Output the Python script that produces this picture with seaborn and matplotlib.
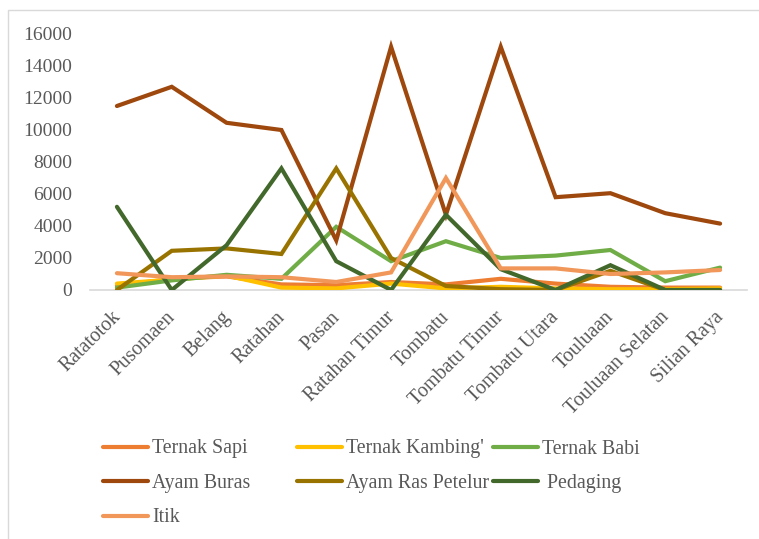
import matplotlib
matplotlib.use("Agg")
import matplotlib.pyplot as plt
import matplotlib.transforms as mtransforms
import seaborn as sns
import pandas as pd
from matplotlib.lines import Line2D
from matplotlib.patches import Rectangle

categories = ["Ratatotok", "Pusomaen", "Belang", "Ratahan", "Pasan", "Ratahan Timur",
              "Tombatu", "Tombatu Timur", "Tombatu Utara", "Touluaan",
              "Touluaan Selatan", "Silian Raya"]

ternak_sapi = [250, 700, 850, 350, 300, 500, 350, 700, 400, 200, 150, 150]
ternak_kambing = [400, 650, 900, 150, 100, 400, 100, 200, 100, 50, 50, 100]
ternak_babi = [150, 600, 950, 700, 3950, 1800, 3050, 2000, 2150, 2500, 550, 1400]
ayam_buras = [11500, 12700, 10450, 10000, 3100, 15200, 4700, 15200, 5800, 6050, 4800, 4150]
ayam_ras_petelur = [0, 2450, 2600, 2250, 7600, 2000, 250, 50, 0, 1200, 0, 0]
pedaging = [5200, 0, 2800, 7600, 1800, 0, 4700, 1300, 0, 1550, 0, 0]
itik = [1050, 800, 850, 800, 500, 1100, 7000, 1350, 1350, 1000, 1100, 1250]

series = {
    "Ternak Sapi": ternak_sapi,
    "Ternak Kambing'": ternak_kambing,
    "Ternak Babi": ternak_babi,
    "Ayam Buras": ayam_buras,
    "Ayam Ras Petelur": ayam_ras_petelur,
    " Pedaging": pedaging,
    "Itik": itik,
}
colors = {
    "Ternak Sapi": "#ED7D31",
    "Ternak Kambing'": "#FFC000",
    "Ternak Babi": "#70AD47",
    "Ayam Buras": "#9E480E",
    "Ayam Ras Petelur": "#997300",
    " Pedaging": "#43682B",
    "Itik": "#F1975A",
}

rows = []
for name, vals in series.items():
    for i, (c, v) in enumerate(zip(categories, vals)):
        rows.append({"pos": i, "Kecamatan": c, "Jenis": name, "Jumlah": v})
df = pd.DataFrame(rows)

sns.set_style("white")
plt.rcParams["font.family"] = ["Liberation Serif", "DejaVu Serif"]

FS = 14
FSX = 14.4
FSL = 14.3
TEXT = "#595959"
fig = plt.figure(figsize=(7.59, 5.39), dpi=100)
W, H = 759, 539
ax = fig.add_axes([89.5 / W, 1 - 290 / H, (747.5 - 89.5) / W, (290 - 34) / H])

sns.lineplot(data=df, x="pos", y="Jumlah", hue="Jenis", palette=colors,
             hue_order=list(series.keys()), linewidth=3.0, ax=ax, legend=False,
             sort=False)
for line in ax.lines:
    line.set_solid_capstyle("round")
    line.set_solid_joinstyle("miter")

ax.set_xlim(-0.5, len(categories) - 0.5)
ax.set_ylim(0, 16000)
ax.set_yticks(range(0, 16001, 2000))
ax.set_xticks(range(len(categories)))
ax.tick_params(axis="y", labelsize=FS, labelcolor=TEXT, length=0, pad=12.5)
ax.tick_params(axis="x", length=0, pad=12)
ax.set_xticklabels(categories, rotation=45, ha="right", rotation_mode="anchor",
                   fontsize=FSX, color=TEXT)
offset = mtransforms.ScaledTranslation(-6 / 100, -1 / 100, fig.dpi_scale_trans)
for lbl in ax.get_xticklabels():
    lbl.set_transform(lbl.get_transform() + offset)
ax.set_xlabel("")
ax.set_ylabel("")
for s in ["top", "right", "left"]:
    ax.spines[s].set_visible(False)
ax.spines["bottom"].set_color("#D9D9D9")
ax.spines["bottom"].set_linewidth(1.2)
ax.spines["bottom"].set_zorder(0)

columns = [
    (103, ["Ternak Sapi", "Ayam Buras", "Itik"]),
    (297, ["Ternak Kambing'", "Ayam Ras Petelur"]),
    (493, ["Ternak Babi", " Pedaging"]),
]
for x0, names in columns:
    handles = [Line2D([0], [0], color=colors[n], lw=3.0, solid_capstyle="round")
               for n in names]
    leg = fig.legend(handles, names, loc="upper left",
                     bbox_to_anchor=(x0 / W, 1 - 439.5 / H), frameon=False,
                     fontsize=FSL, handlelength=2.26, handletextpad=0.2,
                     borderpad=0, borderaxespad=0, labelspacing=0.78)
    for t in leg.get_texts():
        t.set_color(TEXT)

fig.add_artist(Rectangle((8 / W, -0.1), 1.2, 1 - 10 / H + 0.1, transform=fig.transFigure,
                         fill=False, edgecolor="#D9D9D9", linewidth=1.0))

fig.savefig("out.png", dpi=100)
